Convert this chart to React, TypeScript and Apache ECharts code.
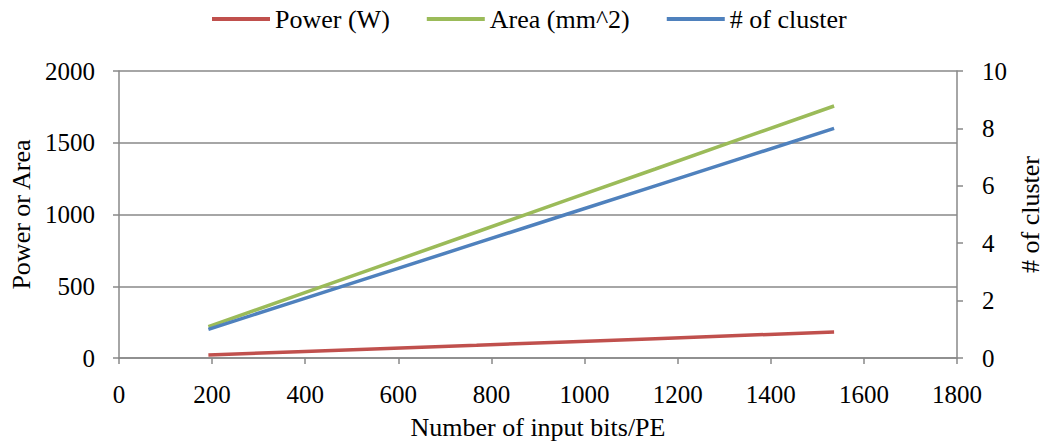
import React, { useEffect, useRef } from "react";
import * as echarts from "echarts";

const bits = [192, 384, 576, 768, 960, 1152, 1344, 1536];
const power = [21, 44, 67, 89, 112, 135, 158, 181];
const area = [218, 438, 658, 878, 1098, 1317, 1537, 1756];
const clusters = [1, 2, 3, 4, 5, 6, 7, 8];

const FONT = "'Liberation Serif', 'Times New Roman', serif";
const FS = 26;
const TFS = 25;
const GREY = "#898989";

export default function App() {
  const ref = useRef<HTMLDivElement>(null);
  useEffect(() => {
    document.body.style.margin = "0";
    const chart = echarts.init(ref.current!, null, { renderer: "svg" });
    const txt = { fontFamily: FONT, fontSize: FS, color: "#000" };
    const tick = { fontFamily: FONT, fontSize: TFS, color: "#000" };
    const plain = (v: number) => String(v);
    chart.setOption({
      animation: false,
      textStyle: { fontFamily: FONT, fontSize: FS },
      legend: {
        top: 1,
        left: 207,
        itemWidth: 58,
        itemHeight: 4,
        itemGap: 37,
        icon: "rect",
        textStyle: { ...txt },
        data: ["Power (W)", "Area (mm^2)", "# of cluster"],
      },
      grid: { left: 119, right: 90, top: 71, bottom: 87, outerBoundsMode: "none", containLabel: false },
      xAxis: {
        type: "value",
        min: 0,
        max: 1800,
        interval: 200,
        name: "Number of input bits/PE",
        nameLocation: "middle",
        nameGap: 56,
        nameTextStyle: txt,
        axisLine: { show: true, lineStyle: { color: GREY, width: 1.5 } },
        axisTick: { show: true, length: 6, lineStyle: { color: GREY, width: 1.5 } },
        axisLabel: { ...tick, margin: 24, formatter: plain },
        splitLine: { show: false },
      },
      yAxis: [
        {
          type: "value",
          min: 0,
          max: 2000,
          interval: 500,
          name: "Power or Area",
          nameLocation: "middle",
          nameGap: 84,
          nameRotate: 90,
          nameTextStyle: txt,
          axisLine: { show: true, lineStyle: { color: GREY, width: 1.5 } },
          axisTick: { show: true, length: 6, lineStyle: { color: GREY, width: 1.5 } },
          axisLabel: { ...tick, margin: 24, formatter: plain },
          splitLine: { show: true, lineStyle: { color: GREY, width: 1.5 } },
        },
        {
          type: "value",
          min: 0,
          max: 10,
          interval: 2,
          position: "right",
          name: "# of cluster",
          nameLocation: "middle",
          nameGap: 59,
          nameRotate: 90,
          nameTextStyle: txt,
          axisLine: { show: true, lineStyle: { color: GREY, width: 1.5 } },
          axisTick: { show: true, length: 6, lineStyle: { color: GREY, width: 1.5 } },
          axisLabel: { ...tick, margin: 25, formatter: plain },
          splitLine: { show: false },
        },
      ],
      series: [
        {
          name: "Power (W)",
          type: "line",
          yAxisIndex: 0,
          data: bits.map((b, i) => [b, power[i]]),
          showSymbol: false,
          symbol: "none",
          lineStyle: { color: "#C0504D", width: 3.5 },
          itemStyle: { color: "#C0504D" },
        },
        {
          name: "Area (mm^2)",
          type: "line",
          yAxisIndex: 0,
          data: bits.map((b, i) => [b, area[i]]),
          showSymbol: false,
          symbol: "none",
          lineStyle: { color: "#9BBB59", width: 3.5 },
          itemStyle: { color: "#9BBB59" },
        },
        {
          name: "# of cluster",
          type: "line",
          yAxisIndex: 1,
          data: bits.map((b, i) => [b, clusters[i]]),
          showSymbol: false,
          symbol: "none",
          lineStyle: { color: "#4F81BD", width: 3.5 },
          itemStyle: { color: "#4F81BD" },
        },
      ],
    });
    return () => chart.dispose();
  }, []);
  return <div ref={ref} style={{ width: 1047, height: 445 }} />;
}
